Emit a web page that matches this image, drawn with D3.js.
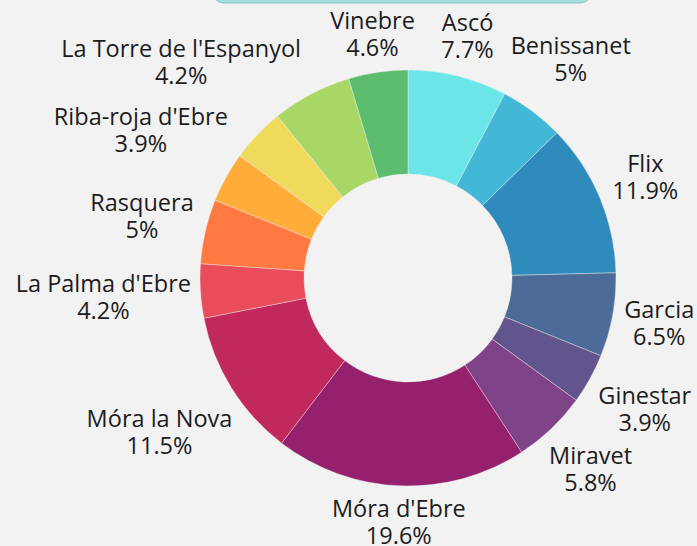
<!DOCTYPE html>
<html>
<head>
<meta charset="utf-8">
<script src="https://cdn.jsdelivr.net/npm/d3@7"></script>
<style>
  html, body { margin: 0; padding: 0; background: #f2f2f2; }
  svg { display: block; font-family: "Open Sans", "Noto Sans", sans-serif; }
</style>
</head>
<body>
<svg id="chart" width="697" height="546"></svg>
<script>
// Dades ---------------------------------------------------------------
const municipis = ["Ascó", "Benissanet", "Flix", "Garcia", "Ginestar", "Miravet",
  "Móra d'Ebre", "Móra la Nova", "La Palma d'Ebre", "Rasquera", "Riba-roja d'Ebre",
  "La Torre de l'Espanyol", "Tivissa", "Vinebre"];
const percentatges = [7.7, 5, 11.9, 6.5, 3.9, 5.8, 19.6, 11.5, 4.2, 5, 3.9, 4.2, 6.2, 4.6];
const colors = ["#6be5e8", "#42b7d6", "#2e8bbb", "#4d6b98", "#62558d", "#7e4487",
  "#95206d", "#c1295e", "#e94d59", "#ff7941", "#ffac3a", "#f0da5b", "#a8d766", "#5dbd6e"];
// etiqueta que no es veu a la imatge
const senseEtiqueta = ["Tivissa"];
// ---------------------------------------------------------------------

const width = 697, height = 546;
const cx = 408, cy = 278;
const outerR = 208, innerR = 104;
const gap = 9;        // separació etiqueta - pastís
const lineH = 27;

const data = municipis.map((m, i) => ({ name: m, value: percentatges[i] }));

const svg = d3.select("#chart");

// capçalera (només se'n veu la part de baix)
svg.append("rect")
  .attr("x", 212).attr("y", -40)
  .attr("width", 380).attr("height", 43)
  .attr("rx", 12)
  .attr("fill", "#a8dcdd")
  .attr("stroke", "#7fc5c7")
  .attr("stroke-width", 1);

const g = svg.append("g").attr("transform", `translate(${cx},${cy})`);

const pie = d3.pie().sort(null).value(d => d.value);
const arc = d3.arc().innerRadius(innerR).outerRadius(outerR);
const color = d3.scaleOrdinal().domain(municipis).range(colors);

const arcs = pie(data);

g.selectAll("path.slice")
  .data(arcs)
  .join("path")
  .attr("class", "slice")
  .attr("d", arc)
  .attr("fill", d => color(d.data.name))
  .attr("stroke", "#f2f2f2")
  .attr("stroke-width", 0.4);

// Posició de l'etiqueta: centre sobre el radi de l'angle mig,
// al punt més proper on la caixa no toca el cercle
function placeLabel(angle, hw, hh, clear) {
  const ux = Math.sin(angle), uy = -Math.cos(angle);
  let lo = 0, hi = clear + hw + hh;
  for (let i = 0; i < 40; i++) {
    const t = (lo + hi) / 2;
    const px = t * ux, py = t * uy;
    const nx = Math.max(px - hw, Math.min(0, px + hw));
    const ny = Math.max(py - hh, Math.min(0, py + hh));
    if (Math.hypot(nx, ny) < clear) lo = t; else hi = t;
  }
  return [hi * ux, hi * uy];
}

const labels = g.selectAll("text.label")
  .data(arcs.filter(d => !senseEtiqueta.includes(d.data.name)))
  .join("text")
  .attr("class", "label")
  .attr("text-anchor", "middle")
  .attr("font-size", 23.5)
  .attr("fill", "#1c1c1c");

labels.each(function (d) {
  const t = d3.select(this);
  const l1 = t.append("tspan").text(d.data.name);
  const l2 = t.append("tspan").text(d.data.value + "%");
  const w = Math.max(l1.node().getComputedTextLength(), l2.node().getComputedTextLength());
  const mid = (d.startAngle + d.endAngle) / 2;
  const [x, y] = placeLabel(mid, w / 2, lineH, outerR + gap);
  l1.attr("x", x).attr("y", y - lineH / 2 + 8);
  l2.attr("x", x).attr("y", y + lineH / 2 + 8);
});
</script>
</body>
</html>
